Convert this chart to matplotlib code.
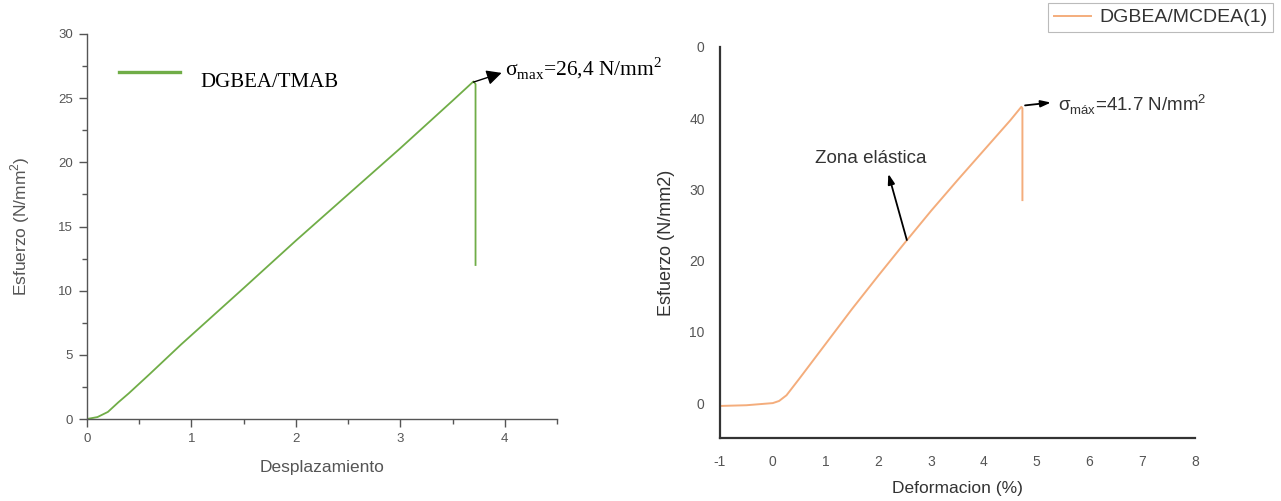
import matplotlib.pyplot as plt
from matplotlib.ticker import MultipleLocator, FixedLocator, FixedFormatter

plt.rcParams['font.family'] = ['Liberation Sans', 'DejaVu Sans']
plt.rcParams['axes.unicode_minus'] = False
plt.rcParams['mathtext.fontset'] = 'custom'
plt.rcParams['mathtext.rm'] = 'Liberation Serif'
plt.rcParams['mathtext.sf'] = 'Liberation Sans'

# left panel: DGBEA/TMAB
desp = [0, 0.1, 0.2, 0.3, 0.4, 0.5, 0.6, 0.9, 1.5, 2.0, 2.5, 3.0, 3.5, 3.70, 3.72, 3.72]
esf_tmab = [0, 0.15, 0.55, 1.3, 2.0, 2.75, 3.5, 5.8, 10.2, 13.9, 17.5, 21.1, 24.8, 26.3, 26.1, 12.0]

# right panel: DGBEA/MCDEA(1)
deform = [-1.0, -0.5, 0.0, 0.12, 0.26, 0.5, 1.0, 1.5, 2.0, 2.5, 3.0, 3.5, 4.0, 4.5, 4.71, 4.73, 4.73]
esf_mcdea = [-0.4, -0.3, 0.0, 0.3, 1.1, 3.4, 8.3, 13.2, 17.9, 22.5, 27.0, 31.3, 35.5, 39.7, 41.6, 41.4, 28.5]

y_ticks_r = [0, 10, 20, 30, 40, 50]
y_labels_r = ['0', '10', '20', '30', '40', '0']

GREEN = '#70ad47'
ORANGE = '#f4ad7c'
GRAY = '#555555'
DARK = '#333333'

fig = plt.figure(figsize=(12.81, 5.01), dpi=100)

# ---- left
ax1 = fig.add_axes([87 / 1281, 82 / 501, 470 / 1281, 385 / 501])
ax1.plot(desp, esf_tmab, color=GREEN, lw=1.3)
ax1.set_xlim(0, 4.5)
ax1.set_ylim(0, 30)
ax1.spines['top'].set_visible(False)
ax1.spines['right'].set_visible(False)
for s in ['left', 'bottom']:
    ax1.spines[s].set_color(GRAY)
    ax1.spines[s].set_linewidth(1.0)
ax1.xaxis.set_major_locator(MultipleLocator(1))
ax1.xaxis.set_minor_locator(MultipleLocator(0.5))
ax1.yaxis.set_major_locator(MultipleLocator(5))
ax1.yaxis.set_minor_locator(MultipleLocator(2.5))
ax1.tick_params(which='both', direction='out', colors=GRAY, labelsize=9.5, width=1)
ax1.tick_params(which='major', length=6, pad=4)
ax1.tick_params(which='minor', length=3.5)
ax1.set_xlabel('Desplazamiento', color=GRAY, fontsize=12.5, labelpad=11)
ax1.set_ylabel('Esfuerzo (N/mm$^{\\mathsf{2}}$)', color=GRAY, fontsize=12.5, labelpad=19)

ax1.plot([0.31, 0.895], [27.05, 27.05], color=GREEN, lw=2.4, clip_on=False)
ax1.text(1.09, 25.85, 'DGBEA/TMAB', family='Liberation Serif', fontsize=15,
         va='baseline', ha='left')
ax1.annotate('', xy=(3.97, 26.97), xytext=(3.70, 26.25),
             arrowprops=dict(arrowstyle='-|>,head_length=0.9,head_width=0.45',
                             color='black', lw=1, shrinkA=0, shrinkB=0))
ax1.text(4.0, 26.8, '$\\mathrm{σ}_{\\mathrm{max}}$=26,4 N/mm$^{\\mathrm{2}}$',
         family='Liberation Serif', fontsize=15.5, va='baseline', ha='left')

# ---- right
ax2 = fig.add_axes([720 / 1281, 63 / 501, 475 / 1281, 391 / 501])
ax2.plot(deform, esf_mcdea, color=ORANGE, lw=1.4, label='DGBEA/MCDEA(1)')
ax2.set_xlim(-1, 8)
ax2.set_ylim(-4.9, 50)
ax2.spines['top'].set_visible(False)
ax2.spines['right'].set_visible(False)
for s in ['left', 'bottom']:
    ax2.spines[s].set_color(DARK)
    ax2.spines[s].set_linewidth(1.6)
ax2.xaxis.set_major_locator(MultipleLocator(1))
ax2.yaxis.set_major_locator(FixedLocator(y_ticks_r))
ax2.yaxis.set_major_formatter(FixedFormatter(y_labels_r))
ax2.tick_params(length=0, colors=GRAY, labelsize=10)
ax2.tick_params(axis='y', pad=11)
ax2.tick_params(axis='x', pad=12)
ax2.set_xlabel('Deformacion (%)', color=DARK, fontsize=12.5, labelpad=9)
ax2.set_ylabel('Esfuerzo (N/mm2)', color=DARK, fontsize=13, labelpad=10)

ax2.annotate('', xy=(5.27, 42.2), xytext=(4.78, 41.8),
             arrowprops=dict(arrowstyle='-|>,head_length=0.6,head_width=0.2',
                             color='black', lw=1.3, shrinkA=0, shrinkB=0))
ax2.text(5.40, 40.9, '$\\mathsf{σ}_{\\mathsf{máx}}$=41.7 N/mm$^{\\mathsf{2}}$',
         color=DARK, fontsize=13.5, va='baseline', ha='left')
ax2.text(1.86, 34.4, 'Zona elástica', color=DARK, fontsize=13.5,
         va='center', ha='center')
ax2.annotate('', xy=(2.19, 32.2), xytext=(2.54, 22.9),
             arrowprops=dict(arrowstyle='-|>,head_length=0.6,head_width=0.2',
                             color='black', lw=1.3, shrinkA=0, shrinkB=0))

leg = fig.legend(loc='upper right', bbox_to_anchor=(1273 / 1281, 1 - 3 / 501),
                 frameon=True, fancybox=False, handlelength=1.9, handletextpad=0.4,
                 borderpad=0.3, borderaxespad=0, prop={'size': 14})
leg.get_frame().set_edgecolor('#aaaaaa')
leg.get_frame().set_linewidth(0.8)
for t in leg.get_texts():
    t.set_color(DARK)

fig.savefig('out.png', dpi=100)
